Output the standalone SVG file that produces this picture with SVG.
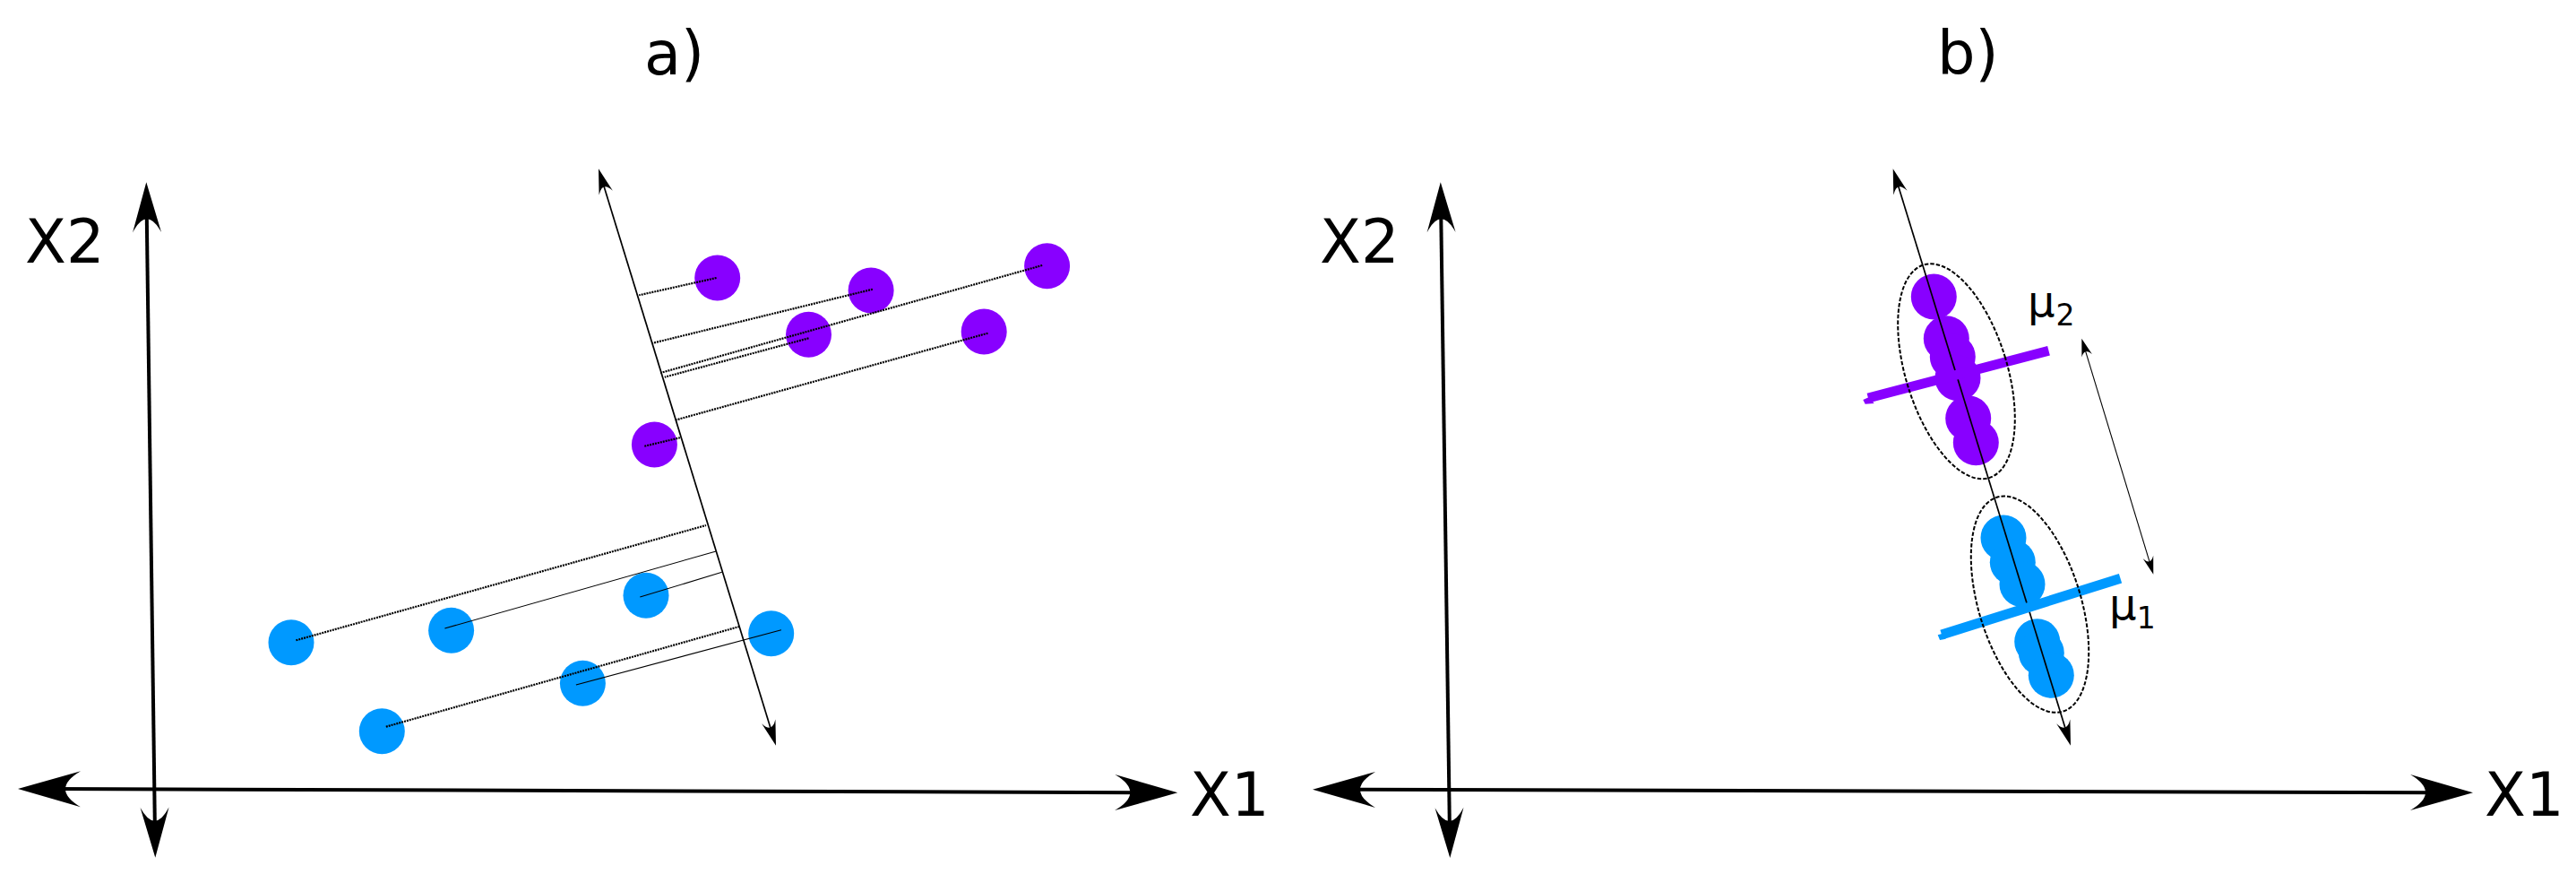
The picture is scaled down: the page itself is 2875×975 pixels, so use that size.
<svg xmlns="http://www.w3.org/2000/svg" xmlns:xlink="http://www.w3.org/1999/xlink" width="2875" height="975" viewBox="0 0 2875 975">
<defs>
<style>
.lbl{font-family:"DejaVu Sans","Liberation Sans",sans-serif;font-size:67px;fill:#000}
.mu{font-family:"DejaVu Sans","Liberation Sans",sans-serif;font-size:48px;fill:#000}
.sub{font-size:33px}
.axis{stroke:#000;stroke-width:4;fill:none}
.paxis{stroke:#000;stroke-width:1.7;fill:none}
.thin{stroke:#000;stroke-width:1.1;fill:none}
.dots{stroke:#000;stroke-width:2.2;stroke-dasharray:2 1;fill:none}
.pur{fill:#8800ff}
.blu{fill:#0099ff}
.ell{stroke:#000;stroke-width:2;stroke-dasharray:4.5 2;fill:none}
</style>
<path id="ahX" d="M0 0 L-70 -20 Q-36 0 -70 20 Z"/>
<path id="ahY" d="M0 0 L-56 -16 Q-26 0 -56 16 Z"/>
<path id="ahM" d="M0 0 L-28 -8 Q-14 0 -28 8 Z"/>
<path id="ahS" d="M0 0 L-20 -6 Q-10 0 -20 6 Z"/>
</defs>
<rect width="2875" height="975" fill="#fff"/>

<!-- Panel a -->
<g id="panel-a">
<text id="title-a" class="lbl" x="719" y="83">a)</text>
<g id="axes-a">
<line class="axis" x1="60" y1="880.1" x2="1274.3" y2="884.2"/>
<use href="#ahX" transform="translate(1314.3,884.3) rotate(0.19)"/>
<use href="#ahX" transform="translate(20,880) rotate(180.19)"/>
<line class="axis" x1="163.8" y1="243.3" x2="172.8" y2="916.7"/>
<use href="#ahY" transform="translate(163.3,203.3) rotate(-90.76)"/>
<use href="#ahY" transform="translate(173.3,956.7) rotate(89.24)"/>
<text id="x2-a" class="lbl" x="28" y="293">X2</text>
<text id="x1-a" class="lbl" x="1328" y="910">X1</text>
</g>
<g id="points-a">
<circle id="pa1" class="pur" cx="800.7" cy="310" r="25.5"/>
<circle id="pa2" class="pur" cx="972.1" cy="324" r="25.5"/>
<circle id="pa3" class="pur" cx="1168.6" cy="296.7" r="25.5"/>
<circle id="pa4" class="pur" cx="902.5" cy="373.3" r="25.5"/>
<circle id="pa5" class="pur" cx="1098.2" cy="370" r="25.5"/>
<circle id="pa6" class="pur" cx="730.4" cy="496" r="25.5"/>
<circle id="ba1" class="blu" cx="325" cy="716.7" r="25.5"/>
<circle id="ba2" class="blu" cx="503.6" cy="703.3" r="25.5"/>
<circle id="ba3" class="blu" cx="721" cy="664.3" r="25.5"/>
<circle id="ba4" class="blu" cx="860.7" cy="706.7" r="25.5"/>
<circle id="ba5" class="blu" cx="650.4" cy="762.3" r="25.5"/>
<circle id="ba6" class="blu" cx="426.3" cy="815.7" r="25.5"/>
</g>
<g id="connectors-a">
<line class="dots" x1="799.6" y1="310" x2="713.2" y2="329.3"/>
<line class="dots" x1="973.9" y1="322.7" x2="728.6" y2="382.7"/>
<line class="dots" x1="1163.2" y1="296" x2="737.1" y2="416"/>
<line class="dots" x1="902.5" y1="377.3" x2="741.8" y2="420.7"/>
<line class="dots" x1="1102.5" y1="371.7" x2="755" y2="468.3"/>
<line class="dots" x1="719.3" y1="497.7" x2="758.9" y2="488.3"/>
<line class="dots" x1="330.4" y1="714.3" x2="788" y2="586"/>
<line class="thin" x1="496.4" y1="701" x2="799.1" y2="615"/>
<line class="thin" x1="714.3" y1="666" x2="805.8" y2="638.3"/>
<line class="dots" x1="430.8" y1="810.7" x2="825" y2="699"/>
<line class="thin" x1="642.9" y1="764" x2="871.9" y2="702.7"/>
<line class="paxis" x1="672.4" y1="202.6" x2="861.6" y2="817.4"/>
<use href="#ahM" transform="translate(668,188.3) rotate(-107.1)"/>
<use href="#ahM" transform="translate(866,831.7) rotate(72.9)"/>
</g>
</g>

<!-- Panel b -->
<g id="panel-b">
<text id="title-b" class="lbl" x="2162" y="83">b)</text>
<g id="axes-b">
<line class="axis" x1="1505" y1="880.8" x2="2720" y2="884.2"/>
<use href="#ahX" transform="translate(2760,884.3) rotate(0.16)"/>
<use href="#ahX" transform="translate(1465,880.7) rotate(180.16)"/>
<line class="axis" x1="1608.3" y1="243.3" x2="1617.8" y2="917"/>
<use href="#ahY" transform="translate(1607.8,203.3) rotate(-90.8)"/>
<use href="#ahY" transform="translate(1618.3,957) rotate(89.2)"/>
<text id="x2-b" class="lbl" x="1473" y="293">X2</text>
<text id="x1-b" class="lbl" x="2773" y="910">X1</text>
</g>
<g id="cluster-purple">
<circle class="pur" cx="2158.3" cy="331" r="25.5"/>
<circle class="pur" cx="2172.3" cy="377.7" r="25.5"/>
<circle class="pur" cx="2179.3" cy="398" r="25.5"/>
<circle class="pur" cx="2185" cy="421.7" r="25.5"/>
<circle class="pur" cx="2196.7" cy="466.7" r="25.5"/>
<circle class="pur" cx="2205.3" cy="493.7" r="25.5"/>
</g>
<g id="cluster-blue">
<circle class="blu" cx="2236" cy="600" r="25.5"/>
<circle class="blu" cx="2246.3" cy="627.3" r="25.5"/>
<circle class="blu" cx="2257" cy="651.7" r="25.5"/>
<circle class="blu" cx="2273.7" cy="715.7" r="25.5"/>
<circle class="blu" cx="2278.3" cy="728.3" r="25.5"/>
<circle class="blu" cx="2289.3" cy="753.3" r="25.5"/>
</g>
<g id="connectors-b">
<line class="paxis" x1="2117.1" y1="202.6" x2="2306.6" y2="817.4"/>
<use href="#ahM" transform="translate(2112.7,188.3) rotate(-107.13)"/>
<use href="#ahM" transform="translate(2311,831.7) rotate(72.87)"/>
<line class="thin" x1="2326.8" y1="389.2" x2="2399.8" y2="629.2"/>
<use href="#ahS" transform="translate(2323.3,377.7) rotate(-106.92)"/>
<use href="#ahS" transform="translate(2403.3,640.7) rotate(73.08)"/>
</g>
<g id="mean-bars">
<line stroke="#8800ff" stroke-width="11" x1="2085" y1="444" x2="2286.5" y2="391.3"/>
<polygon class="pur" points="2079.3,446 2086,443 2091.7,450 2081.7,450.7"/>
<line stroke="#0099ff" stroke-width="11" x1="2167" y1="708" x2="2366.5" y2="645.3"/>
<polygon class="blu" points="2162.7,708.3 2168.3,706.7 2171.7,712.7 2165,714"/>
</g>
<g id="ellipses">
<ellipse class="ell" cx="2183.5" cy="414.3" rx="56.6" ry="124.3" transform="rotate(-17.1 2183.5 414.3)"/>
<ellipse class="ell" cx="2265.5" cy="674.2" rx="57" ry="125" transform="rotate(-17.1 2265.5 674.2)"/>
</g>
<text id="mu2" class="mu" x="2263" y="353.3">μ<tspan class="sub" x="2294.4" y="363.3">2</tspan></text>
<text id="mu1" class="mu" x="2354" y="690.7">μ<tspan class="sub" x="2384.7" y="700.5">1</tspan></text>
</g>
</svg>
